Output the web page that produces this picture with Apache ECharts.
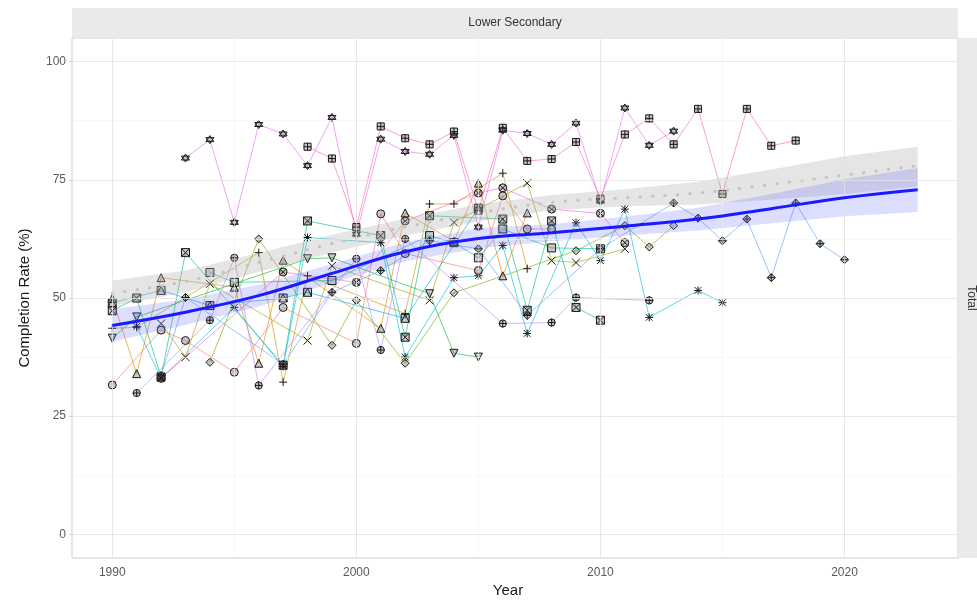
<!DOCTYPE html>
<html>
<head>
<meta charset="utf-8">
<script src="https://cdn.jsdelivr.net/npm/echarts@6/dist/echarts.min.js"></script>
<style>
  html, body { margin: 0; padding: 0; background: #fff; }
  #chart { width: 977px; height: 600px; }
</style>
</head>
<body>
<div id="chart"></div>
<script>
// ---- completion rates, lower secondary, one array of [year, %] per country ----
const squareVals = [[1994,55.4],[1995,53.3],[1999,53.7],[2003,63.2],[2004,61.7],[2005,58.5],[2006,64.6],[2008,60.6],[2010,60.4]];
const circleVals = [[1990,31.6],[1992,43.2],[1993,41.0],[1995,34.3],[1997,48.0],[2000,40.4],[2001,67.8],[2002,59.4],[2005,55.8],[2006,71.6],[2007,64.6],[2008,64.6]];
const triangleVals = [[1990,49.9],[1991,34.0],[1992,54.3],[1995,52.3],[1996,36.2],[1997,58.0],[2001,43.6],[2002,68.0],[2004,62.0],[2005,74.3],[2006,54.7],[2007,68.0]];
const plusVals = [[1990,43.6],[1991,43.8],[1996,59.6],[1997,32.2],[1998,54.7],[2002,46.7],[2003,69.9],[2004,69.9],[2006,76.4],[2007,56.2]];
const crossVals = [[1992,44.6],[1993,37.5],[1994,53.0],[1998,41.0],[1999,56.8],[2003,49.5],[2004,66.0],[2007,74.3],[2008,57.9],[2009,57.5],[2011,60.4]];
const diamondVals = [[1994,36.4],[1996,62.5],[1999,40.0],[2000,49.5],[2002,36.2],[2004,51.1],[2009,60.0],[2011,65.3],[2012,60.8],[2013,65.3]];
const invTriVals = [[1990,41.5],[1991,46.0],[1998,58.3],[1999,58.5],[2003,50.9],[2004,38.3],[2005,37.5]];
const boxCrossVals = [[1990,47.3],[1991,50.0],[1992,33.3],[1993,59.6],[1997,35.8],[1998,66.3],[2001,63.2],[2002,41.7],[2003,67.4],[2006,66.7],[2007,47.4],[2008,66.3],[2009,48.0],[2010,45.3]];
const asteriskVals = [[1991,44.0],[1992,33.0],[1995,48.0],[1997,35.5],[1998,62.8],[2001,61.7],[2002,37.5],[2004,54.3],[2005,54.7],[2006,61.1],[2007,42.5],[2009,65.9],[2010,57.9],[2011,68.8],[2012,45.9],[2014,51.6],[2015,49.0]];
const diamondPlusVals = [[1992,33.6],[1993,50.1],[1997,36.0],[1999,51.2],[2001,55.8],[2003,62.1],[2005,60.4],[2007,46.3],[2010,60.4],[2013,70.1],[2014,66.9],[2015,62.1],[2016,66.7],[2017,54.3],[2018,70.1],[2019,61.5],[2020,58.1]];
const circlePlusVals = [[1991,29.9],[1994,45.3],[1995,58.5],[1996,31.5],[2000,58.3],[2001,39.0],[2002,62.5],[2006,44.6],[2008,44.8],[2009,50.1],[2012,49.5]];
const starVals = [[1993,79.6],[1994,83.5],[1995,66.0],[1996,86.7],[1997,84.7],[1998,78.0],[1999,88.2],[2000,63.5],[2001,83.6],[2002,81.0],[2003,80.4],[2004,84.4],[2005,65.0],[2006,85.5],[2007,84.8],[2008,82.5],[2009,87.0],[2010,70.5],[2011,90.2],[2012,82.3],[2013,85.3]];
const squarePlusVals = [[1998,82.0],[1999,79.5],[2000,65.0],[2001,86.3],[2002,83.8],[2003,82.5],[2004,85.2],[2005,68.5],[2006,86.0],[2007,79.0],[2008,79.4],[2009,83.0],[2010,71.0],[2011,84.6],[2012,88.0],[2013,82.5],[2014,90.0],[2015,72.0],[2016,90.0],[2017,82.2],[2018,83.3]];
const circleCrossVals = [[1992,33.0],[1997,55.5],[2000,53.3],[2002,66.3],[2005,72.2],[2006,73.3],[2008,68.8],[2010,67.9],[2011,61.7]];
const squareTriVals = [[1990,49.0],[1992,51.6],[1994,48.4],[1997,50.0],[1998,51.2],[2002,45.7],[2005,69.0]];

// ---- smoothed fits with confidence bands ----
const fitYears = [1990,1993,1996,1999,2002,2005,2008,2011,2014,2017,2020,2023];
const fitMean  = [44.2,47.0,50.5,55.2,59.8,62.6,63.8,65.2,66.7,68.9,71.2,72.9];
const fitLow   = [40.8,44.3,48.2,53.2,57.8,60.5,62.0,63.2,64.3,65.8,67.3,68.2];
const fitHigh  = [47.6,49.7,52.8,57.2,61.8,64.8,65.6,67.2,69.1,72.0,75.1,77.5];

const refYears = [1990,1993,1996,1999,2002,2005,2008,2011,2014,2017,2020,2023];
const refMean  = [51.0,53.5,57.5,61.5,65.0,68.0,70.2,71.2,72.2,74.0,76.0,78.0];
const refLow   = [48.3,51.2,55.5,59.6,63.2,66.2,68.6,69.4,69.8,70.8,72.0,73.6];
const refHigh  = [53.7,55.8,59.5,63.4,66.8,69.8,71.8,73.0,74.6,77.2,80.0,82.0];

// ---- axis ticks and grid ----
const xMajor = [1990, 2000, 2010, 2020];
const xMinor = [1995, 2005, 2015];
const yMajor = [0, 25, 50, 75, 100];
const yMinor = [12.5, 37.5, 62.5, 87.5];

// point shapes drawn as open outlines (10x10 box)
const SQ = 'M0.6,0.6H9.4V9.4H0.6Z';
const CI = 'M0.5,5A4.5,4.5 0 1,0 9.5,5A4.5,4.5 0 1,0 0.5,5Z';
const TR = 'M5,0.3L9.7,9.2H0.3Z';
const TD = 'M0.3,0.8H9.7L5,9.7Z';
const PL = 'M5,0V10M0,5H10';
const XX = 'M0.8,0.8L9.2,9.2M9.2,0.8L0.8,9.2';
const DI = 'M5,0L10,5L5,10L0,5Z';
const shapes = {
  square: 'path://' + SQ,
  circle: 'path://' + CI,
  triangle: 'path://' + TR,
  plus: 'path://' + PL,
  cross: 'path://' + XX,
  diamond: 'path://' + DI,
  invTri: 'path://' + TD,
  boxCross: 'path://' + SQ + XX,
  asterisk: 'path://' + PL + XX,
  diamondPlus: 'path://' + DI + PL,
  circlePlus: 'path://' + CI + PL,
  star: 'path://M5,0L9.5,7.5H0.5ZM0.5,2.5H9.5L5,10Z',
  squarePlus: 'path://' + SQ + PL,
  circleCross: 'path://' + CI + 'M1.8,1.8L8.2,8.2M8.2,1.8L1.8,8.2',
  squareTri: 'path://' + SQ + 'M0.6,9.4L5,0.6L9.4,9.4'
};

const countries = [
  { name: 'C01', vals: squareVals,      shape: 'square',      color: '#00C0AF' },
  { name: 'C02', vals: circleVals,      shape: 'circle',      color: '#F8766D' },
  { name: 'C03', vals: triangleVals,    shape: 'triangle',    color: '#E58700' },
  { name: 'C04', vals: plusVals,        shape: 'plus',        color: '#C99800' },
  { name: 'C05', vals: crossVals,       shape: 'cross',       color: '#A3A500' },
  { name: 'C06', vals: diamondVals,     shape: 'diamond',     color: '#6BB100' },
  { name: 'C07', vals: invTriVals,      shape: 'invTri',      color: '#00BA38' },
  { name: 'C08', vals: boxCrossVals,    shape: 'boxCross',    color: '#00BF7D' },
  { name: 'C09', vals: asteriskVals,    shape: 'asterisk',    color: '#00BCD8' },
  { name: 'C10', vals: diamondPlusVals, shape: 'diamondPlus', color: '#619CFF' },
  { name: 'C11', vals: circlePlusVals,  shape: 'circlePlus',  color: '#B983FF' },
  { name: 'C12', vals: starVals,        shape: 'star',        color: '#E76BF3' },
  { name: 'C13', vals: squarePlusVals,  shape: 'squarePlus',  color: '#FF67A4' },
  { name: 'C14', vals: circleCrossVals, shape: 'circleCross', color: '#FD61D1' },
  { name: 'C15', vals: squareTriVals,   shape: 'squareTri',   color: '#00B0F6' }
];

const countrySeries = countries.map(c => ({
  name: c.name,
  type: 'line',
  z: 2,
  data: c.vals,
  symbol: shapes[c.shape],
  symbolSize: 8,
  showAllSymbol: true,
  silent: true,
  lineStyle: { color: c.color, width: 0.9, opacity: 0.7 },
  itemStyle: { color: 'rgba(80,80,80,0.3)', borderColor: '#1a1a1a', borderWidth: 1 }
}));

function zip(xs, ys) { return xs.map((x, i) => [x, ys[i]]); }

function bandSeries(xs, lo, hi, fill, z) {
  return {
    type: 'custom', z: z, silent: true,
    data: [[xs[0], lo[0]]],
    renderItem: function (params, api) {
      const pts = [];
      for (let i = 0; i < xs.length; i++) pts.push(api.coord([xs[i], hi[i]]));
      for (let i = xs.length - 1; i >= 0; i--) pts.push(api.coord([xs[i], lo[i]]));
      return { type: 'polygon', shape: { points: pts, smooth: 0 }, style: { fill: fill } };
    }
  };
}

function gridLines(axisKey, vals, color, width) {
  return vals.map(v => ({ [axisKey]: v, lineStyle: { color: color, width: width, type: 'solid' } }));
}

const gridSeries = {
  type: 'line', z: 1, data: [], silent: true,
  markLine: {
    silent: true, symbol: ['none', 'none'], label: { show: false }, animation: false,
    data: [].concat(
      gridLines('xAxis', xMinor, '#f1f1f1', 0.6),
      gridLines('yAxis', yMinor, '#f1f1f1', 0.6),
      gridLines('xAxis', xMajor, '#e2e2e2', 0.8),
      gridLines('yAxis', yMajor, '#e2e2e2', 0.8)
    )
  }
};

const font = '"Liberation Sans", Arial, sans-serif';

const option = {
  animation: false,
  backgroundColor: '#ffffff',
  grid: { left: 72, right: 19, top: 38, bottom: 42, show: true, backgroundColor: '#fff', borderColor: '#cfcfcf', borderWidth: 1 },
  xAxis: {
    type: 'value', min: 1988.35, max: 2024.65,
    axisLine: { show: false }, splitLine: { show: false },
    axisTick: { show: true, customValues: xMajor, length: 3, lineStyle: { color: '#cfcfcf' } },
    axisLabel: { customValues: xMajor, formatter: v => String(v), color: '#5a5a5a', fontSize: 12, fontFamily: font, margin: 9 }
  },
  yAxis: {
    type: 'value', min: -5, max: 105,
    axisLine: { show: false }, splitLine: { show: false },
    axisTick: { show: true, customValues: yMajor, length: 3, lineStyle: { color: '#cfcfcf' } },
    axisLabel: { customValues: yMajor, formatter: v => String(v), color: '#5a5a5a', fontSize: 12, fontFamily: font, margin: 6 }
  },
  series: [gridSeries].concat(countrySeries, [
    bandSeries(refYears, refLow, refHigh, 'rgba(175,175,175,0.32)', 3),
    bandSeries(fitYears, fitLow, fitHigh, 'rgba(100,100,255,0.22)', 3),
    {
      type: 'line', z: 4, silent: true, data: zip(refYears, refMean), smooth: 0.4, symbol: 'none',
      lineStyle: { color: '#c4c4c4', width: 3, type: [0.5, 12], cap: 'round' }
    },
    {
      type: 'line', z: 5, silent: true, data: zip(fitYears, fitMean), smooth: 0.4, symbol: 'none',
      lineStyle: { color: '#1a1aff', width: 3 }
    }
  ]),
  graphic: [
    { type: 'rect', shape: { x: 72, y: 8, width: 886, height: 29 }, style: { fill: '#e9ebeb' }, silent: true },
    { type: 'text', x: 515, y: 22.5, style: { text: 'Lower Secondary', font: '12px ' + font, fill: '#333', align: 'center', verticalAlign: 'middle' }, silent: true },
    { type: 'rect', shape: { x: 958, y: 38, width: 19, height: 520 }, style: { fill: '#e9ebeb' }, silent: true },
    { type: 'text', x: 971, y: 298, rotation: -Math.PI / 2, style: { text: 'Total', font: '12px ' + font, fill: '#333', align: 'center', verticalAlign: 'middle' }, silent: true },
    { type: 'text', x: 508, y: 591, style: { text: 'Year', font: '15px ' + font, fill: '#1a1a1a', align: 'center', verticalAlign: 'middle' }, silent: true },
    { type: 'text', x: 25, y: 298, rotation: Math.PI / 2, style: { text: 'Completion Rate (%)', font: '15px ' + font, fill: '#1a1a1a', align: 'center', verticalAlign: 'middle' }, silent: true }
  ]
};

const chart = echarts.init(document.getElementById('chart'), null, { renderer: 'canvas' });
chart.setOption(option);
</script>
</body>
</html>
